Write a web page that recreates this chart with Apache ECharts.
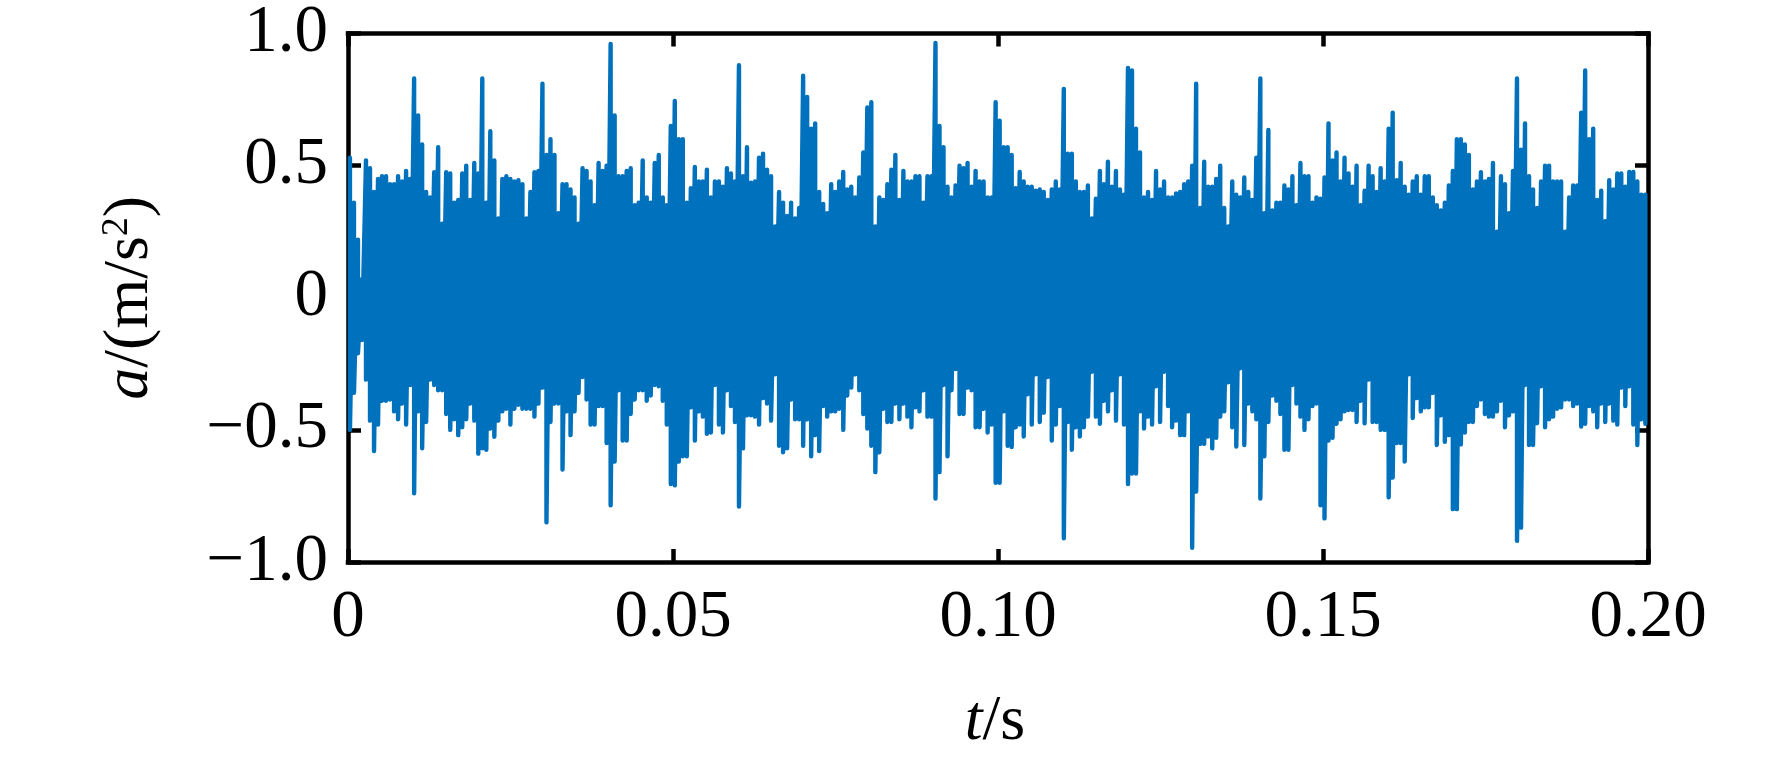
<!DOCTYPE html>
<html><head><meta charset="utf-8">
<style>html,body{margin:0;padding:0;background:#fff}#c{width:1772px;height:759px}</style>
<script src="https://cdn.jsdelivr.net/npm/echarts@6/dist/echarts.min.js"></script>
</head><body><div id="c"></div>
<script>
const xTickLabels = {0:'0',0.05:'0.05',0.1:'0.10',0.15:'0.15',0.2:'0.20'};
const yTickLabels = {'-1':'−1.0','-0.5':'−0.5',0:'0',0.5:'0.5',1:'1.0'};
const startTime = 0.0003;
const sampleStep = 0.000617;
const upperPeaks1 = [.53,.36,.22,.07,.52,.49,.40,.45,.46,.46,.43,.43,.46,.44,.48,.45,.83,.69,.58,.40,.38,.475,.57,.28,.475,.47,.36,.37,.47,.50,.37,.51,.47,.83,.36,.63,.52,.30,.45,.46,.45,.44,.445,.43,.30,.40,.475,.48,.81,.54,.60,.54,.32,.43,.43,.41,.38,.28,.49,.48,.44,.35,.51,.48,.50,.96,.69,.46,.46,.48,.49,.35,.36,.52,.38,.36,.51,.54,.38,.35,.65];
const upperPeaks2 = [.745,.60,.60,.36,.415,.495,.44,.44,.485,.38,.44,.44,.42,.49,.47,.44,.88,.46,.57,.435,.44,.53,.545,.485,.46,.27,.40,.36,.31,.36,.30,.34,.84,.76,.64,.66,.40,.355,.32,.43,.40,.44,.476,.41,.42,.38,.455,.55,.72,.74,.27,.38,.37,.43,.485,.54,.37,.48,.44,.44,.46,.46,.36,.46,.46,.964,.65,.57,.42,.38,.425,.50,.49,.51,.42,.48,.44,.44,.38,.38,.74];
const upperPeaks3 = [.67,.57,.57,.54,.415,.476,.44,.42,.42,.405,.41,.40,.37,.41,.44,.41,.79,.545,.545,.44,.40,.40,.425,.30,.375,.48,.43,.515,.42,.48,.41,.39,.87,.86,.64,.55,.38,.40,.37,.48,.41,.44,.38,.38,.395,.40,.43,.44,.50,.81,.34,.515,.42,.42,.45,.50,.34,.27,.44,.39,.38,.455,.40,.37,.53,.83,.32,.635,.33,.36,.36,.425,.41,.46,.35,.51,.46,.46,.36,.38,.375];
const upperPeaks4 = [.455,.66,.52,.55,.44,.53,.47,.42,.50,.35,.405,.50,.46,.40,.49,.44,.64,.70,.445,.51,.42,.39,.44,.46,.39,.46,.46,.38,.35,.33,.36,.425,.48,.60,.60,.58,.54,.41,.44,.475,.44,.45,.51,.25,.46,.43,.32,.48,.83,.56,.66,.46,.41,.34,.44,.50,.50,.44,.44,.44,.25,.38,.425,.425,.70,.86,.60,.64,.37,.405,.29,.445,.41,.47,.47,.42,.476,.476,.44,.39,.39];
const lowerPeaks1 = [-.50,-.36,-.21,-.16,-.31,-.465,-.58,-.48,-.39,-.39,-.385,-.43,-.46,-.40,-.48,-.33,-.74,-.43,-.57,-.47,-.31,-.33,-.35,-.35,-.44,-.50,-.46,-.52,-.49,-.46,-.40,-.465,-.59,-.57,-.575,-.495,-.526,-.465,-.43,-.42,-.48,-.42,-.405,-.42,-.42,-.42,-.45,-.40,-.34,-.85,-.47,-.40,-.40,-.65,-.43,-.52,-.43,-.36,-.30,-.385,-.48,-.48,-.41,-.41,-.55,-.785,-.62,-.35,-.54,-.54,-.44,-.385,-.35,-.35,-.39,-.37,-.33,-.335,-.39,-.48,-.705];
const lowerPeaks2 = [-.71,-.62,-.60,-.60,-.415,-.54,-.43,-.45,-.515,-.51,-.33,-.48,-.51,-.35,-.41,-.47,-.79,-.57,-.445,-.445,-.45,-.48,-.38,-.40,-.465,-.29,-.56,-.585,-.57,-.385,-.46,-.46,-.56,-.46,-.60,-.52,-.58,-.41,-.45,-.43,-.43,-.42,-.50,-.37,-.34,-.29,-.35,-.44,-.495,-.56,-.66,-.585,-.42,-.47,-.47,-.40,-.46,-.40,-.45,-.49,-.415,-.43,-.35,-.45,-.45,-.76,-.66,-.33,-.60,-.35,-.27,-.44,-.44,-.34,-.35,-.49,-.49,-.42,-.51,-.48,-.70];
const lowerPeaks3 = [-.70,-.43,-.56,-.565,-.49,-.48,-.525,-.365,-.48,-.29,-.47,-.435,-.30,-.54,-.48,-.41,-.91,-.47,-.575,-.49,-.525,-.49,-.45,-.28,-.45,-.477,-.39,-.43,-.35,-.465,-.29,-.48,-.705,-.665,-.665,-.43,-.495,-.45,-.48,-.335,-.47,-.28,-.41,-.49,-.465,-.52,-.52,-.43,-.946,-.733,-.553,-.553,-.525,-.57,-.53,-.45,-.43,-.32,-.49,-.563,-.267,-.557,-.40,-.43,-.46,-.76,-.60,-.47,-.37,-.39,-.44,-.575,-.575,-.33,-.40,-.45,-.50,-.46,-.41,-.40,-.785];
const lowerPeaks4 = [-.835,-.54,-.53,-.477,-.46,-.43,-.425,-.425,-.47,-.39,-.475,-.31,-.47,-.47,-.50,-.50,-.755,-.68,-.55,-.55,-.62,-.29,-.455,-.38,-.43,-.415,-.415,-.36,-.557,-.445,-.545,-.52,-.80,-.80,-.555,-.51,-.47,-.47,-.41,-.385,-.44,-.45,-.45,-.43,-.39,-.49,-.445,-.43,-.92,-.87,-.33,-.557,-.557,-.475,-.335,-.49,-.46,-.45,-.42,-.415,-.385,-.385,-.41,-.40,-.487,-.477,-.41,-.43,-.49,-.40,-.47,-.40,-.465,-.48,-.34,-.41,-.335,-.48,-.557,-.46,-.477];

const uppers = [].concat(upperPeaks1, upperPeaks2, upperPeaks3, upperPeaks4);
const lowers = [].concat(lowerPeaks1, lowerPeaks2, lowerPeaks3, lowerPeaks4);
const trace = [];
uppers.forEach((u, i) => {
  const t = startTime + i * sampleStep;
  trace.push([t, u], [t, lowers[i]]);
});

const FONT = '"Liberation Serif","Times New Roman",serif';
const axisLine = {show:true, onZero:false, lineStyle:{color:'#000', width:4.5, cap:'square'}};
const axisTick = {show:true, inside:true, length:13, lineStyle:{color:'#000', width:4.5}};
const chart = echarts.init(document.getElementById('c'), null, {renderer:'canvas'});
chart.setOption({
  animation:false,
  backgroundColor:'#fff',
  grid:{left:348, right:124, top:28, bottom:191, containLabel:false},
  xAxis:[
    {type:'value', min:0, max:0.2, interval:0.05, position:'bottom', axisLine, axisTick, splitLine:{show:false},
     axisLabel:{fontFamily:FONT, fontSize:67, color:'#000', margin:23, hideOverlap:false, formatter:v=>xTickLabels[+v.toFixed(2)]},
     name:'{i|t}{n|/s}', nameLocation:'middle', nameGap:128,
     nameTextStyle:{padding:[0,6,0,0], rich:{i:{fontFamily:FONT, fontStyle:'italic', fontSize:64, color:'#000'}, n:{fontFamily:FONT, fontSize:64, color:'#000'}}}},
    {type:'value', min:0, max:0.2, interval:0.05, position:'top', axisLine, axisTick, splitLine:{show:false}, axisLabel:{show:false}}
  ],
  yAxis:[
    {type:'value', min:-1, max:1, interval:0.5, position:'left', axisLine, axisTick, splitLine:{show:false},
     axisLabel:{fontFamily:FONT, fontSize:67, color:'#000', margin:20, formatter:v=>yTickLabels[v]},
     name:'{i|a}{n|/(m/s}{s|2}{n|)}', nameLocation:'middle', nameRotate:90, nameGap:186,
     nameTextStyle:{rich:{i:{fontFamily:FONT, fontStyle:'italic', fontSize:64, color:'#000'}, n:{fontFamily:FONT, fontSize:64, color:'#000'}, s:{fontFamily:FONT, fontSize:38, color:'#000', verticalAlign:'top'}}}},
    {type:'value', min:-1, max:1, interval:0.5, position:'right', axisLine, axisTick, splitLine:{show:false}, axisLabel:{show:false}}
  ],
  series:[{type:'line', data:trace, showSymbol:false, symbol:'none', sampling:false, smooth:false, clip:true,
    lineStyle:{color:'#0071BC', width:4.4, join:'round', cap:'round'}, emphasis:{disabled:true}, silent:true, progressive:0}]
});
</script></body></html>
